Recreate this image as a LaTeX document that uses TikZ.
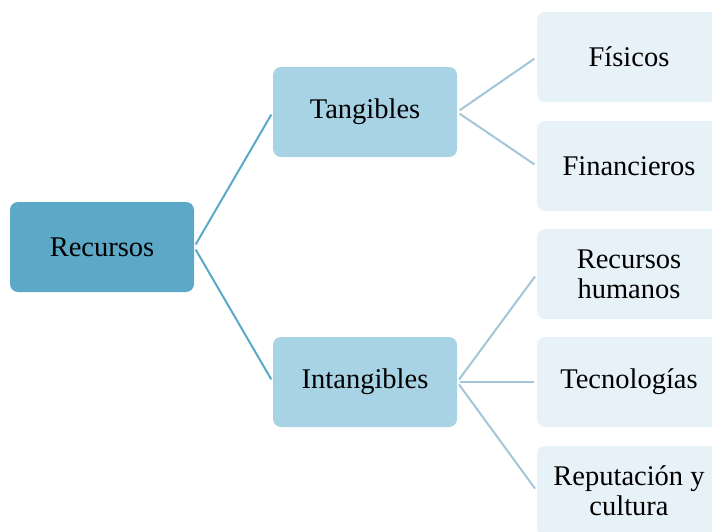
\documentclass[tikz,border=0pt]{standalone}
\usepackage{fontspec}
\setmainfont{Liberation Serif}
\definecolor{cRoot}{HTML}{5CA8C7}
\definecolor{cMid}{HTML}{A7D3E5}
\definecolor{cLeaf}{HTML}{E7F2F8}
\definecolor{cLineA}{HTML}{5CA8C7}
\definecolor{cLineB}{HTML}{A3C6D9}
\begin{document}
\begin{tikzpicture}[x=1pt,y=-1pt,
  box/.style={rounded corners=8pt, minimum width=184pt, minimum height=90pt, inner sep=0pt,
    align=center, font=\fontsize{28.5}{30}\selectfont, text=black},
  rootbox/.style={box, fill=cRoot},
  midbox/.style={box, fill=cMid},
  leafbox/.style={box, fill=cLeaf},
  linkA/.style={draw=cLineA, line width=2pt, shorten <=3pt, shorten >=3pt},
  linkB/.style={draw=cLineB, line width=2pt, shorten <=3pt, shorten >=3pt}]
\useasboundingbox (0,0) rectangle (712,531);
\clip (0,0) rectangle (712,531);
\node[rootbox] (rec) at (102,247) {Recursos};
\node[midbox] (tan) at (365,112) {Tangibles};
\node[midbox] (int) at (365,382) {Intangibles};
\node[leafbox] (fis) at (629,57) {Físicos};
\node[leafbox] (fin) at (629,166) {Financieros};
\node[leafbox] (rh) at (629,274) {Recursos\\humanos};
\node[leafbox] (tec) at (629,382) {Tecnologías};
\node[leafbox] (rep) at (629,491) {Reputación y\\cultura};
\draw[linkA] (rec.east) -- (tan.west);
\draw[linkA] (rec.east) -- (int.west);
\draw[linkB] (tan.east) -- (fis.west);
\draw[linkB] (tan.east) -- (fin.west);
\draw[linkB] (int.east) -- (rh.west);
\draw[linkB] (int.east) -- (tec.west);
\draw[linkB] (int.east) -- (rep.west);
\end{tikzpicture}
\end{document}
